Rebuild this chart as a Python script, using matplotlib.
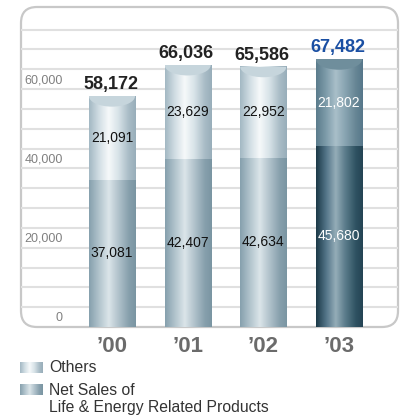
import numpy as np
import matplotlib
matplotlib.use('Agg')
import matplotlib.pyplot as plt
from matplotlib.colors import LinearSegmentedColormap
from matplotlib.patches import FancyBboxPatch, Rectangle, Ellipse

# Data
years = ['\u201900', '\u201901', '\u201902', '\u201903']
net_sales = [37081, 42407, 42634, 45680]
others = [21091, 23629, 22952, 21802]
totals = [58172, 66036, 65586, 67482]
ytick_vals = [0, 20000, 40000, 60000]
grid_vals = list(range(5000, 80000, 5000))
legend_labels = ['Others', 'Net Sales of\nLife & Energy Related Products']
latest = 3  # highlighted year

plt.rcParams['font.family'] = ['Liberation Sans', 'DejaVu Sans']

# Gradients (left -> right across the cylinder)
pos = [0, 0.22, 0.42, 0.62, 0.85, 1]
cm_oth = LinearSegmentedColormap.from_list('oth', list(zip(pos, ['#a3b8c3', '#d3dfe5', '#f6f9fa', '#d9e4e9', '#a9bcc6', '#98aeba'])))
cm_net = LinearSegmentedColormap.from_list('net', list(zip(pos, ['#86a0ad', '#b3c5ce', '#dbe5e9', '#b3c4cd', '#87a0ad', '#7a95a2'])))
cm_oth_d = LinearSegmentedColormap.from_list('othd', list(zip(pos, ['#5a7b8b', '#7f9dab', '#a9bfc9', '#89a5b2', '#678695', '#56778a'])))
cm_net_d = LinearSegmentedColormap.from_list('netd', list(zip(pos, ['#1b3947', '#55768a', '#95adb8', '#5c7d8c', '#2f5262', '#244454'])))
grad = np.linspace(0, 1, 128).reshape(1, -1)

W, H = 400, 418
fig = plt.figure(figsize=(W / 100, H / 100), dpi=100)

# background layer in pixel units: panel border + legend
bg = fig.add_axes([0, 0, 1, 1], zorder=0)
bg.set_axis_off()

px_l, px_r, px_t, px_b = 21, 398, 7, 327
panel = FancyBboxPatch((px_l, px_t), px_r - px_l, px_b - px_t,
                       boxstyle='round,pad=0,rounding_size=16',
                       fc='white', ec='#c8c8c8', lw=1.6)
bg.add_patch(panel)

# legend swatches and labels
for i, cm in enumerate([cm_oth, cm_net]):
    y0 = 362 + i * 22
    bg.imshow(grad, cmap=cm, extent=(20, 43, y0 + 11, y0), aspect='auto', interpolation='bilinear')
bg.text(49, 367.5, legend_labels[0], fontsize=11.3, color='#333333', va='center', ha='left')
bg.text(49, 383, legend_labels[1], fontsize=11.3, color='#333333', va='top', ha='left',
        linespacing=1.2)
bg.set_xlim(0, W)
bg.set_ylim(H, 0)
bg.set_aspect('auto')

# main chart
ax = fig.add_axes([px_l / W, (H - px_b) / H, (px_r - px_l) / W, (px_b - px_t) / H], zorder=1)
ax.patch.set_visible(False)
ax.set_axis_off()
ymax = 80700

for g in grid_vals:
    ax.axhline(g, color='#e0e0e0', lw=1.5, zorder=1)

for v in ytick_vals:
    ax.annotate(f'{v:,}', (-0.648, v), xytext=(0, 6.5), textcoords='offset points',
                ha='right', va='center', fontsize=9, color='#808080')

bw = 0.608
cap_h = 2600
x = np.arange(len(years))
for i in range(len(years)):
    dark = (i == latest)
    segs = [(0, net_sales[i], cm_net_d if dark else cm_net),
            (net_sales[i], net_sales[i] + others[i], cm_oth_d if dark else cm_oth)]
    for y0, y1, cm in segs:
        ax.imshow(grad, cmap=cm, extent=(x[i] - bw / 2, x[i] + bw / 2, y0, y1),
                  aspect='auto', interpolation='bilinear', zorder=2)
    top = net_sales[i] + others[i]
    clip = Rectangle((x[i] - bw / 2, 0), bw, top, transform=ax.transData)
    cap = Ellipse((x[i], top), bw, cap_h * 2, fc='#6f8e9c' if dark else '#c6d5dc', ec='none', zorder=3)
    ax.add_patch(cap)
    cap.set_clip_path(clip)

    tc = 'white' if dark else '#111111'
    ax.text(x[i], net_sales[i] / 2, f'{net_sales[i]:,}', ha='center', va='center',
            fontsize=10, color=tc, zorder=4)
    ax.text(x[i], net_sales[i] + others[i] / 2, f'{others[i]:,}', ha='center', va='center',
            fontsize=10, color=tc, zorder=4)
    ax.annotate(f'{totals[i]:,}', (x[i] - 0.02, top), xytext=(0, 5), textcoords='offset points',
                ha='center', va='baseline', fontsize=13, fontweight='bold',
                color='#1a4fa3' if dark else '#222222', zorder=4)
    ax.annotate(years[i], (x[i], 0), xytext=(0, -14), textcoords='offset points',
                ha='center', va='center', fontsize=16, fontweight='bold', color='#6b6b6b',
                annotation_clip=False)

ax.set_xlim(-1.2026, 3.780)
ax.set_ylim(0, ymax)

fig.savefig('out.png', dpi=100)
